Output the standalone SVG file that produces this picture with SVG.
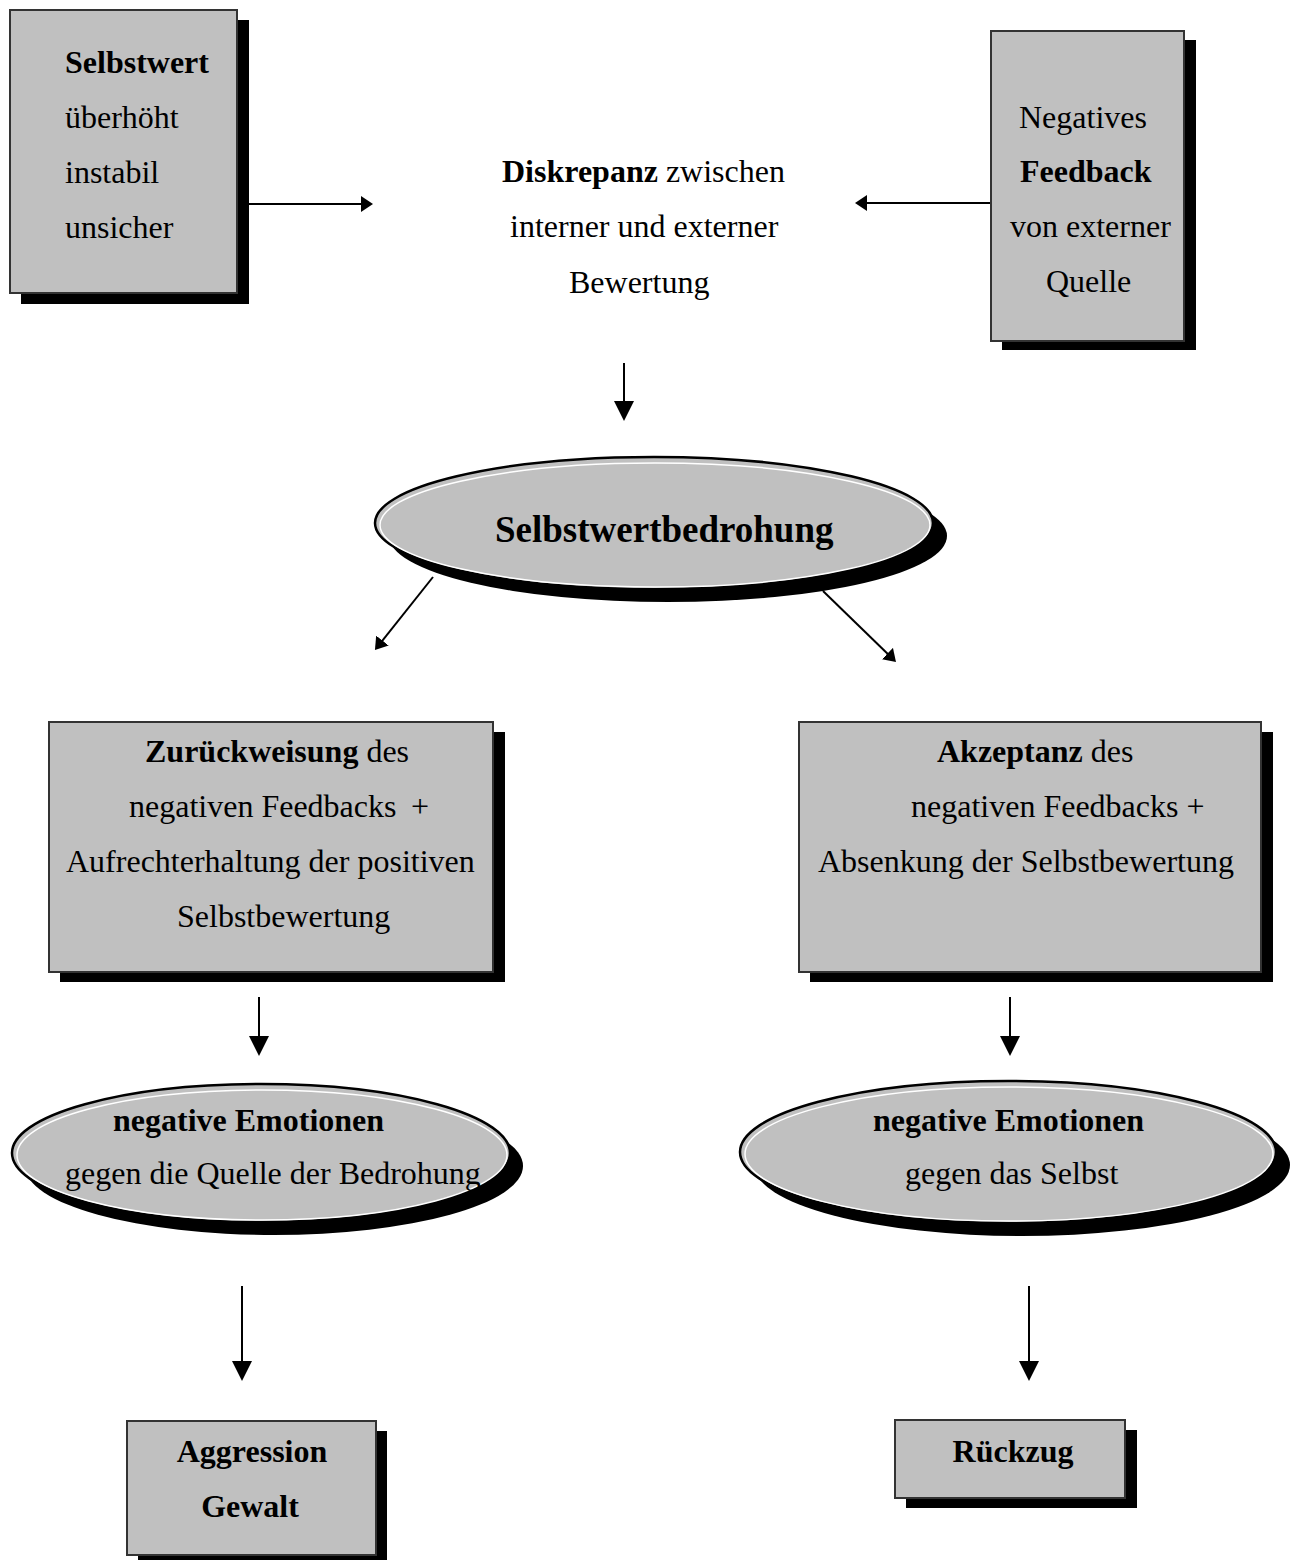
<svg xmlns="http://www.w3.org/2000/svg" width="1291" height="1560" viewBox="0 0 1291 1560">
<style>
text{font-family:"Liberation Serif","Times New Roman",serif;font-size:32px;fill:#000}
.b{font-weight:bold}
.box{fill:#c0c0c0;stroke:#333;stroke-width:2}
.sh{fill:#000}
.ell{fill:#c0c0c0;stroke:#000;stroke-width:2.5}
.hl{fill:none;stroke:#fff;stroke-width:1.5}
.con{stroke:#000;stroke-width:2;fill:none}
</style>
<defs>
<marker id="ah" viewBox="0 0 20 20" markerWidth="20" markerHeight="20" refX="2" refY="10" orient="auto" markerUnits="userSpaceOnUse"><path d="M0,0 L20,10 L0,20 z" fill="#000"/></marker>
<marker id="ahs" viewBox="0 0 12 16" markerWidth="12" markerHeight="16" refX="1" refY="8" orient="auto" markerUnits="userSpaceOnUse"><path d="M0,0 L12,8 L0,16 z" fill="#000"/></marker>
</defs>
<rect width="1291" height="1560" fill="#fff"/>

<g id="connectors">
<line class="con" x1="249" y1="204" x2="362" y2="204" marker-end="url(#ahs)"/>
<line class="con" x1="991" y1="203" x2="866" y2="203" marker-end="url(#ahs)"/>
<line class="con" x1="624" y1="363" x2="624" y2="403" marker-end="url(#ah)"/>
<line class="con" x1="433" y1="577" x2="381.8" y2="641.4" marker-end="url(#ahs)"/>
<line class="con" x1="823" y1="591" x2="888.1" y2="654.3" marker-end="url(#ahs)"/>
<line class="con" x1="259" y1="997" x2="259" y2="1038" marker-end="url(#ah)"/>
<line class="con" x1="1010" y1="997" x2="1010" y2="1038" marker-end="url(#ah)"/>
<line class="con" x1="242" y1="1286" x2="242" y2="1363" marker-end="url(#ah)"/>
<line class="con" x1="1029" y1="1286" x2="1029" y2="1363" marker-end="url(#ah)"/>
</g>

<g id="selbstwert">
<rect class="sh" x="21" y="20" width="228" height="284"/>
<rect class="box" x="10" y="10" width="227" height="283"/>
<text x="65" y="73" class="b">Selbstwert</text>
<text x="65" y="128">überhöht</text>
<text x="65" y="183">instabil</text>
<text x="65" y="238">unsicher</text>
</g>

<g id="diskrepanz">
<text x="502" y="182"><tspan class="b">Diskrepanz</tspan> zwischen</text>
<text x="510" y="237">interner und externer</text>
<text x="569" y="293">Bewertung</text>
</g>

<g id="feedback">
<rect class="sh" x="1002" y="40" width="194" height="310"/>
<rect class="box" x="991" y="31" width="193" height="310"/>
<text x="1019" y="128">Negatives</text>
<text x="1020" y="182" class="b">Feedback</text>
<text x="1010" y="237">von externer</text>
<text x="1046" y="292">Quelle</text>
</g>

<g id="bedrohung">
<ellipse class="sh" cx="668" cy="536" rx="279" ry="66"/>
<ellipse class="ell" cx="654" cy="523" rx="279" ry="66"/>
<ellipse class="hl" cx="655" cy="525" rx="275" ry="62"/>
<text x="495" y="542" class="b" style="font-size:37px">Selbstwertbedrohung</text>
</g>

<g id="zurueckweisung">
<rect class="sh" x="60" y="732" width="445" height="250"/>
<rect class="box" x="49" y="722" width="444" height="250"/>
<text x="145" y="762"><tspan class="b">Zurückweisung</tspan> des</text>
<text x="129" y="817">negativen Feedbacks<tspan x="411">+</tspan></text>
<text x="66" y="872">Aufrechterhaltung der positiven</text>
<text x="177" y="927">Selbstbewertung</text>
</g>

<g id="akzeptanz">
<rect class="sh" x="810" y="732" width="463" height="250"/>
<rect class="box" x="799" y="722" width="462" height="250"/>
<text x="937" y="762"><tspan class="b">Akzeptanz</tspan> des</text>
<text x="911" y="817">negativen Feedbacks +</text>
<text x="818" y="872">Absenkung der Selbstbewertung</text>
</g>

<g id="emotionen-quelle">
<ellipse class="sh" cx="274" cy="1166" rx="249" ry="69"/>
<ellipse class="ell" cx="261" cy="1153" rx="249" ry="69"/>
<ellipse class="hl" cx="262" cy="1155" rx="245" ry="65"/>
<text x="113" y="1131" class="b">negative Emotionen</text>
<text x="65" y="1184">gegen die Quelle der Bedrohung</text>
</g>

<g id="emotionen-selbst">
<ellipse class="sh" cx="1022" cy="1165" rx="268" ry="71"/>
<ellipse class="ell" cx="1008" cy="1152" rx="268" ry="71"/>
<ellipse class="hl" cx="1009" cy="1154" rx="264" ry="67"/>
<text x="873" y="1131" class="b">negative Emotionen</text>
<text x="905" y="1184">gegen das Selbst</text>
</g>

<g id="aggression">
<rect class="sh" x="138" y="1431" width="249" height="134"/>
<rect class="box" x="127" y="1421" width="249" height="134"/>
<text x="252" y="1462" class="b" text-anchor="middle">Aggression</text>
<text x="250" y="1517" class="b" text-anchor="middle">Gewalt</text>
</g>

<g id="rueckzug">
<rect class="sh" x="906" y="1430" width="231" height="78"/>
<rect class="box" x="895" y="1420" width="230" height="78"/>
<text x="1013" y="1462" class="b" text-anchor="middle">Rückzug</text>
</g>
</svg>
